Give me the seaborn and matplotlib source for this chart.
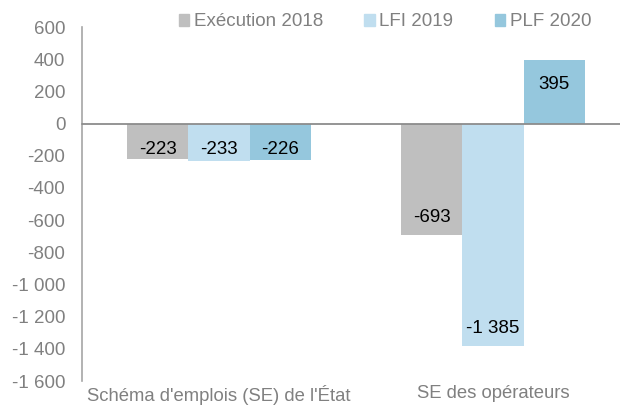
import matplotlib
matplotlib.use("Agg")
import matplotlib.pyplot as plt
import matplotlib.patches as mpatches
from matplotlib.ticker import FuncFormatter, FixedLocator
import seaborn as sns
import pandas as pd

categories = ["Schéma d'emplois (SE) de l'État", "SE des opérateurs"]
series = ["Exécution 2018", "LFI 2019", "PLF 2020"]
execution_2018 = [-223, -693]
lfi_2019 = [-233, -1385]
plf_2020 = [-226, 395]
y_ticks = [600, 400, 200, 0, -200, -400, -600, -800, -1000, -1200, -1400, -1600]

colors = ["#BFBFBF", "#C0DEEF", "#95C7DD"]
grey_text = "#808080"

rows = []
for name, vals in zip(series, [execution_2018, lfi_2019, plf_2020]):
    for cat, v in zip(categories, vals):
        rows.append({"cat": cat, "serie": name, "value": v})
df = pd.DataFrame(rows)

sns.set_theme(style="white")
plt.rcParams["font.family"] = ["Liberation Sans", "DejaVu Sans"]


def fmt(v):
    return f"{int(v):,}".replace(",", " ")


fig = plt.figure(figsize=(6.2, 4.05), dpi=100)
ax = fig.add_axes([82 / 620, 24 / 405, 548 / 620, 354 / 405])

sns.barplot(data=df, x="cat", y="value", hue="serie", order=categories,
            hue_order=series, palette=colors, width=0.668, saturation=1,
            errorbar=None, legend=False, ax=ax, edgecolor="none")

ax.set_xlim(-0.5, 1.5)
ax.set_ylim(-1600, 600)
ax.yaxis.set_major_locator(FixedLocator(y_ticks))
ax.yaxis.set_major_formatter(FuncFormatter(lambda v, _: fmt(v)))
ax.set_xlabel("")
ax.set_ylabel("")

for s in ["top", "right", "bottom"]:
    ax.spines[s].set_visible(False)
ax.spines["left"].set_color("#A6A6A6")
ax.spines["left"].set_linewidth(1.2)
ax.axhline(0, color="#8C8C8C", linewidth=1.3, zorder=3, clip_on=False)

ax.tick_params(axis="y", length=0, pad=12, labelsize=13.5, labelcolor=grey_text)
ax.tick_params(axis="x", length=0, pad=3, labelsize=13.3, labelcolor=grey_text)

# value labels placed inside the end of each bar
px_per_unit = 354 / 2200
for container in ax.containers:
    for bar in container:
        h = bar.get_height()
        length_px = abs(h) * px_per_unit
        if h > 0:
            dy = -25
        else:
            dy = min(18, length_px - 26)
        ax.annotate(fmt(h),
                    xy=(bar.get_x() + bar.get_width() / 2, h),
                    xytext=(0, dy), textcoords="offset pixels",
                    ha="center", va="center", fontsize=13.5, color="black",
                    zorder=5)

handles = [mpatches.Patch(color=c, label=s) for c, s in zip(colors, series)]
leg = fig.legend(handles=handles, loc="center", bbox_to_anchor=(385 / 620, 1 - 22 / 405),
                 ncol=3, frameon=False, fontsize=13.5, handlelength=0.55,
                 handleheight=0.55, handletextpad=0.25, columnspacing=2.2)
for t in leg.get_texts():
    t.set_color(grey_text)

fig.savefig("out.png", dpi=100)
